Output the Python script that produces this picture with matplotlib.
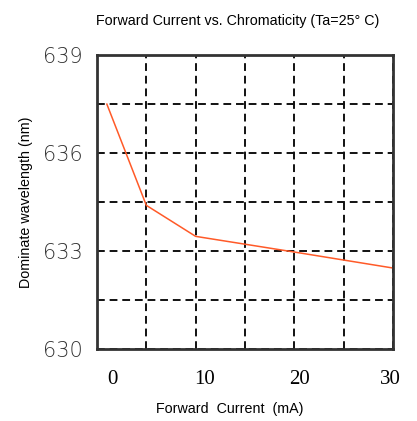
import matplotlib
matplotlib.use("Agg")
import matplotlib.pyplot as plt
from matplotlib.transforms import ScaledTranslation

# Data
current_ma = [1, 5, 10, 20, 30]
wavelength_nm = [637.5, 634.4, 633.45, 632.97, 632.48]

x_major = [0, 10, 20, 30]
x_labels = ["0", "10", "20", "30"]
x_minor = [5, 15, 25]
y_major = [630, 633, 636, 639]
y_labels = ["630", "633", "636", "639"]
y_minor = [631.5, 634.5, 637.5]

fig = plt.figure(figsize=(4.17, 4.21), dpi=100)
ax = fig.add_axes([0.2326, 0.171, 0.7098, 0.698])

ax.plot(current_ma, wavelength_nm, color="#FF5A28", lw=1.1, zorder=3)

ax.set_xlim(0, 30)
ax.set_ylim(630, 639)
ax.set_xticks(x_major)
ax.set_xticklabels(x_labels, fontfamily="Liberation Serif", fontsize=15)
ax.set_xticks(x_minor, minor=True)
ax.set_yticks(y_major)
ax.set_yticklabels(y_labels, fontfamily="DejaVu Sans", fontweight="light",
                   fontsize=15, color="#333333")
ax.set_yticks(y_minor, minor=True)
ax.tick_params(which="both", length=0)
ax.tick_params(axis="x", pad=15)
ax.tick_params(axis="y", pad=10)

# nudge x tick labels like the reference
offsets_px = [15, 9, 5, -3]
for lab, dx in zip(ax.get_xticklabels(), offsets_px):
    lab.set_transform(lab.get_transform() + ScaledTranslation(dx / 100, 0, fig.dpi_scale_trans))

ax.grid(which="both", color="#111111", lw=1.4, ls=(0, (4, 2.5)), zorder=1)
for s in ax.spines.values():
    s.set_linewidth(2)
    s.set_color("#333333")
    s.set_zorder(4)

fs = 10.3
ax.set_title("Forward Current vs. Chromaticity (Ta=25° C)", fontfamily="Liberation Sans",
             fontsize=fs, pad=22, x=0.476)
ax.set_xlabel("Forward  Current  (mA)", fontfamily="Liberation Sans", fontsize=fs)
ax.xaxis.set_label_coords(0.449, -0.18)
ax.set_ylabel("Dominate wavelength (nm)", fontfamily="Liberation Sans", fontsize=fs)
ax.yaxis.set_label_coords(-0.215, 0.5)

fig.savefig("out.png", dpi=100)
